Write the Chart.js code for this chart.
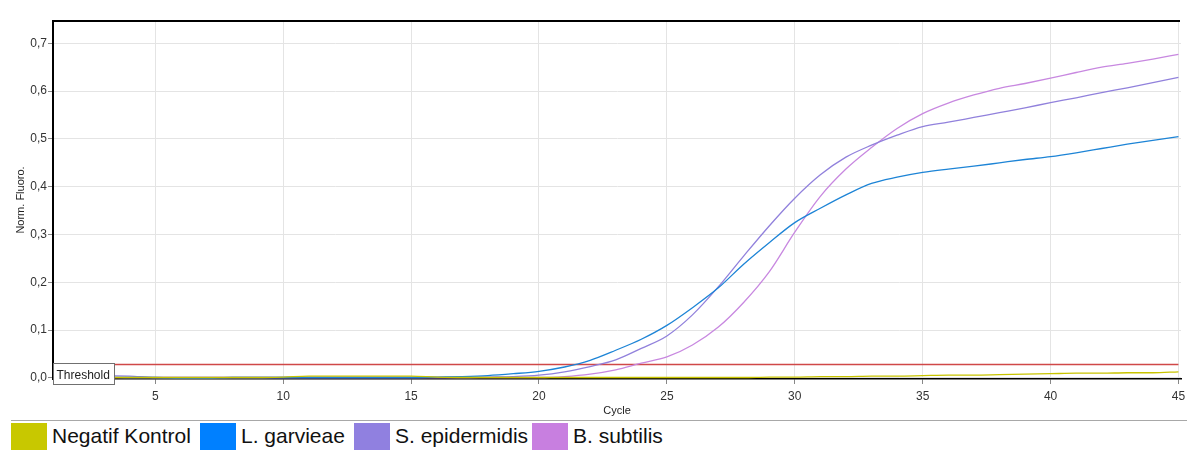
<!DOCTYPE html>
<html>
<head>
<meta charset="utf-8">
<script src="https://cdn.jsdelivr.net/npm/chart.js@4.4.0/dist/chart.umd.min.js"></script>
<style>
	body { margin: 0; background: #fff; font-family: "Liberation Sans", Arial, sans-serif; }
	#wrap { position: relative; width: 1187px; height: 450px; overflow: hidden; }
	#chart { position: absolute; left: 0; top: 0; }
	#sep { position: absolute; left: 11px; right: 0; top: 420px; height: 1px; background: #a8a8a8; }
	.box { position: absolute; top: 423px; width: 36px; height: 30px; }
	.lbl { position: absolute; top: 423px; font-size: 21px; line-height: 26px; color: #111; white-space: nowrap; }
</style>
</head>
<body>
<div id="wrap">
	<canvas id="chart" width="1187" height="418"></canvas>
	<div id="sep"></div>
	<div id="legend"></div>
</div>
<script>
// cycle numbers on the x axis
const cycles = [1, 2, 3, 4, 5, 6, 7, 8, 9, 10, 11, 12, 13, 14, 15, 16, 17, 18, 19, 20, 21, 22, 23, 24, 25, 26, 27, 28, 29, 30, 31, 32, 33, 34, 35, 36, 37, 38, 39, 40, 41, 42, 43, 44, 45];

// normalised fluorescence per cycle
const negatifKontrol = [0.001, 0.001, 0.001, 0.001, 0.001, 0.001, 0.001, 0.001, 0.001, 0.002, 0.004, 0.004, 0.004, 0.004, 0.004, 0.002, 0.001, 0.001, 0.001, 0.001, 0.001, 0.001, 0.001, 0.001, 0.001, 0.001, 0.001, 0.001, 0.002, 0.002, 0.003, 0.003, 0.004, 0.004, 0.005, 0.006, 0.006, 0.007, 0.008, 0.009, 0.010, 0.010, 0.011, 0.011, 0.013];
const lGarvieae = [0.002, 0.002, 0.002, 0.001, 0.001, 0.000, 0.000, 0.001, 0.001, 0.001, 0.001, 0.001, 0.001, 0.001, 0.001, 0.002, 0.003, 0.005, 0.009, 0.014, 0.023, 0.037, 0.058, 0.081, 0.110, 0.147, 0.188, 0.238, 0.283, 0.325, 0.355, 0.383, 0.407, 0.420, 0.430, 0.437, 0.443, 0.450, 0.457, 0.463, 0.471, 0.480, 0.489, 0.497, 0.505];
const sEpidermidis = [0.004, 0.005, 0.005, 0.004, 0.001, 0.001, 0.001, 0.001, 0.001, 0.001, 0.001, 0.001, 0.001, 0.001, 0.001, 0.001, 0.001, 0.002, 0.003, 0.006, 0.013, 0.024, 0.038, 0.062, 0.088, 0.132, 0.190, 0.255, 0.318, 0.376, 0.425, 0.462, 0.487, 0.508, 0.526, 0.535, 0.545, 0.555, 0.565, 0.576, 0.586, 0.597, 0.607, 0.618, 0.629];
const bSubtilis = [0.001, 0.001, 0.001, 0.001, 0.001, 0.001, 0.001, 0.001, 0.001, 0.001, 0.001, 0.001, 0.001, 0.001, 0.001, 0.001, 0.001, 0.001, 0.001, 0.001, 0.003, 0.008, 0.017, 0.031, 0.044, 0.069, 0.106, 0.158, 0.222, 0.305, 0.380, 0.437, 0.482, 0.522, 0.553, 0.575, 0.592, 0.606, 0.616, 0.627, 0.639, 0.650, 0.658, 0.667, 0.677];

const seriesNames = ["Negatif Kontrol", "L. garvieae", "S. epidermidis", "B. subtilis"];
const seriesData = [negatifKontrol, lGarvieae, sEpidermidis, bSubtilis];

const thresholdValue = 0.03;
const yTicks = [0, 0.1, 0.2, 0.3, 0.4, 0.5, 0.6, 0.7];
const xTicks = [5, 10, 15, 20, 25, 30, 35, 40, 45];

const lineColors = ["#c8c400", "#1d84d6", "#9181dc", "#c888e0"];
const legendColors = ["#c8c800", "#0080ff", "#9080e0", "#c87fe0"];
const legendBoxLeft = [11, 200, 354, 532];

const FONT = "'Liberation Sans', Arial, sans-serif";

// legend under the chart
const legend = document.getElementById("legend");
seriesNames.forEach((name, i) => {
	const box = document.createElement("div");
	box.className = "box";
	box.style.left = legendBoxLeft[i] + "px";
	box.style.background = legendColors[i];
	legend.appendChild(box);
	const lbl = document.createElement("div");
	lbl.className = "lbl";
	lbl.style.left = (legendBoxLeft[i] + 41) + "px";
	lbl.textContent = name;
	legend.appendChild(lbl);
});

// threshold line, its label and the top frame line
const extrasPlugin = {
	id: "extras",
	beforeDatasetsDraw(chart) {
		const { ctx, chartArea, scales } = chart;
		const y = Math.round(scales.y.getPixelForValue(thresholdValue)) + 0.5;
		ctx.save();
		ctx.strokeStyle = "#d04848";
		ctx.lineWidth = 1.5;
		ctx.beginPath();
		ctx.moveTo(chartArea.left, y);
		ctx.lineTo(scales.x.getPixelForValue(45), y);
		ctx.stroke();
		ctx.restore();
	},
	afterDatasetsDraw(chart) {
		const { ctx, chartArea } = chart;
		ctx.save();
		// top frame
		ctx.strokeStyle = "#000";
		ctx.lineWidth = 2;
		ctx.beginPath();
		ctx.moveTo(chartArea.left - 1, chartArea.top);
		ctx.lineTo(chartArea.right - 1, chartArea.top);
		ctx.stroke();
		// threshold label box
		const bx = chartArea.left + 0.5, by = 363.5, bw = 61, bh = 21;
		ctx.fillStyle = "#fff";
		ctx.fillRect(bx, by, bw, bh);
		ctx.strokeStyle = "#707070";
		ctx.lineWidth = 1;
		ctx.strokeRect(bx, by, bw, bh);
		ctx.fillStyle = "#222";
		ctx.font = "12px " + FONT;
		ctx.textBaseline = "alphabetic";
		ctx.fillText("Threshold", bx + 3, by + 15);
		ctx.restore();
	}
};

const ctx = document.getElementById("chart").getContext("2d");
const chart = new Chart(ctx, {
	type: "line",
	data: {
		datasets: seriesNames.map((name, i) => ({
			label: name,
			data: cycles.map((c, k) => ({ x: c, y: seriesData[i][k] })),
			borderColor: lineColors[i],
			backgroundColor: lineColors[i],
			borderWidth: 1.3,
			pointRadius: 0,
			cubicInterpolationMode: "monotone",
			fill: false,
		})),
	},
	options: {
		responsive: false,
		animation: false,
		layout: { padding: { left: 0, top: 21, right: 6, bottom: 0 } },
		plugins: {
			legend: { display: false },
			tooltip: { enabled: false },
		},
		scales: {
			x: {
				type: "linear",
				min: 1,
				max: 45.1,
				afterFit: (scale) => { scale.height = 39; scale.paddingRight = 0; scale.paddingLeft = 0; },
				afterBuildTicks: (scale) => { scale.ticks = xTicks.map((v) => ({ value: v })); },
				grid: { color: "#e4e4e4", tickColor: "#888", tickLength: 5 },
				border: { color: "#000", width: 1.5 },
				ticks: { color: "#333", font: { family: FONT, size: 12 }, padding: 5, maxRotation: 0 },
				title: { display: true, text: "Cycle", color: "#222", font: { family: FONT, size: 11 }, padding: { top: 0, bottom: 0 } },
			},
			y: {
				min: -0.0021,
				max: 0.7467,
				afterFit: (scale) => { scale.width = 53; },
				afterBuildTicks: (scale) => { scale.ticks = yTicks.map((v) => ({ value: v })); },
				grid: { color: "#e4e4e4", tickColor: "#888", tickLength: 5 },
				border: { color: "#000", width: 2 },
				ticks: {
					color: "#333",
					font: { family: FONT, size: 12 },
					padding: 1,
					callback: (v) => v.toFixed(1).replace(".", ","),
				},
				title: { display: true, text: "Norm. Fluoro.", color: "#222", font: { family: FONT, size: 11 }, padding: { top: 14, bottom: 0 } },
			},
		},
	},
	plugins: [extrasPlugin],
});
</script>
</body>
</html>
